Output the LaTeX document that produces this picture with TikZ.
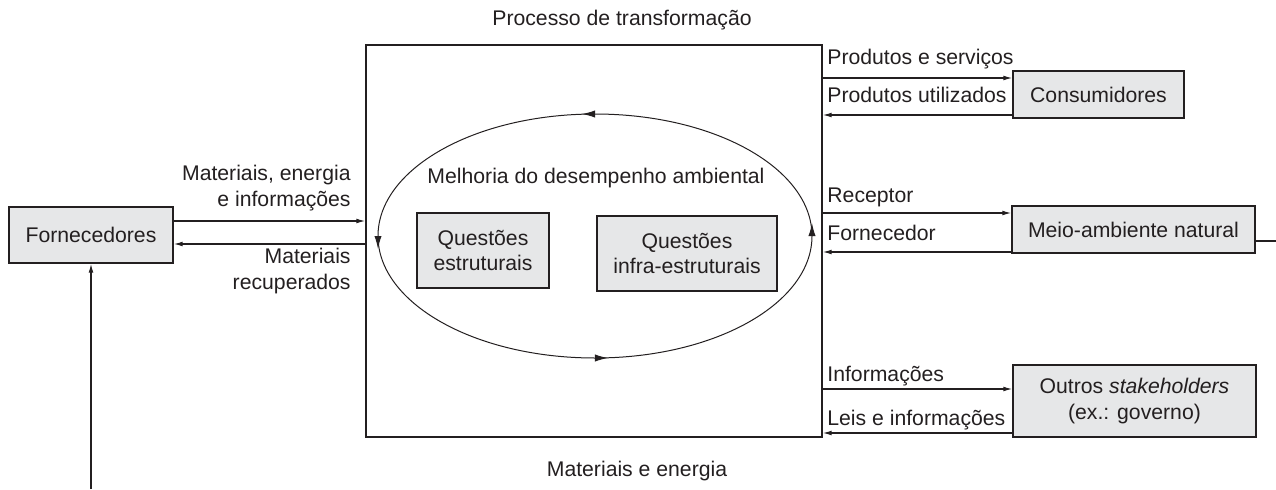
\documentclass[tikz,border=0pt]{standalone}
\usepackage{fontspec}
\setmainfont{Liberation Sans}
\usepackage{xcolor}
\usetikzlibrary{arrows.meta,decorations.markings}

\definecolor{boxgray}{RGB}{230,231,232}
\definecolor{ink}{RGB}{35,31,32}

\tikzset{
  >={Latex[length=4.5pt,width=2.4pt]},
  graybox/.style={draw=ink, fill=boxgray, line width=0.7pt, align=center, inner sep=0pt},
  flow/.style={->, draw=ink, line width=0.6pt},
  lbl/.style={inner sep=0pt, align=right},
  cycletip/.tip={Latex[reversed,length=6.5pt,width=3.6pt]},
}

\begin{document}
\begin{tikzpicture}[x=0.5pt, y=-0.5pt, font=\fontsize{10.6}{12.8}\selectfont, color=ink]
  \useasboundingbox (0,0) rectangle (1276,489);

  % Process box with the improvement cycle.
  \node[draw=ink, line width=0.7pt, minimum width=228pt, minimum height=196pt, inner sep=0pt] (proc) at (594,241) {};
  \draw[draw=ink, line width=0.5pt, decoration={markings,
      mark=at position 0 with {\arrow{cycletip}},
      mark=at position 0.25 with {\arrow{cycletip}},
      mark=at position 0.5 with {\arrow{cycletip}},
      mark=at position 0.75 with {\arrow{cycletip}}},
    postaction={decorate}] (595,236) ellipse (217 and 122);

  % Text annotations
  \node[lbl, anchor=base] (title) at (622,25) {Processo de transformação};
  \node[lbl, anchor=base] (bottom) at (637,476) {Materiais e energia};
  \node (melhoria) at (596,178) {Melhoria do desempenho ambiental};

  % Gray boxes.
  \node[graybox, minimum width=66pt, minimum height=37.5pt] (estr) at (483,250.5) {Questões\\estruturais};
  \node[graybox, minimum width=90pt, minimum height=37.5pt] (infra) at (687,253.5) {Questões\\infra-estruturais};
  \node[graybox, minimum width=82pt, minimum height=28pt] (forn) at (91,235) {Fornecedores};
  \node[graybox, minimum width=85.5pt, minimum height=23.5pt] (cons) at (1098.5,94.5) {Consumidores};
  \node[graybox, minimum width=121.5pt, minimum height=23.5pt] (meio) at (1133.5,229.5) {Meio-ambiente natural};
  \node[graybox, minimum width=121.5pt, minimum height=36pt] (outros) at (1134.5,401) {Outros \textit{stakeholders}\\(ex.: governo)};

  % Suppliers side.
  \draw[flow] (forn.east |- 0,221) -- (proc.west |- 0,221);
  \draw[flow] (proc.west |- 0,244) -- (forn.east |- 0,244);
  \node[lbl, anchor=east] (lin) at (351,188) {Materiais, energia\\e informações};
  \node[lbl, anchor=east] (lout) at (351,271) {Materiais\\recuperados};
  \coordinate (below) at (91,489);
  \draw[flow] (below) -- (forn.south);

  % Consumers, environment and stakeholders.
  \draw[flow] (proc.east |- 0,78) -- (cons.west |- 0,78);
  \draw[flow] (cons.west |- 0,115) -- (proc.east |- 0,115);
  \draw[flow] (proc.east |- 0,213) -- (meio.west |- 0,213);
  \draw[flow] (meio.west |- 0,252) -- (proc.east |- 0,252);
  \draw[flow] (proc.east |- 0,389) -- (outros.west |- 0,389);
  \draw[flow] (outros.west |- 0,433) -- (proc.east |- 0,433);
  \coordinate (edge) at (1276,241);
  \draw[draw=ink, line width=0.6pt] (meio.east |- edge) -- (edge);

  \node[lbl, anchor=base west] (lps) at (827,64) {Produtos e serviços};
  \node[lbl, anchor=base west] (lpu) at (827,102) {Produtos utilizados};
  \node[lbl, anchor=base west] (lrec) at (827,202) {Receptor};
  \node[lbl, anchor=base west] (lfor) at (827,240) {Fornecedor};
  \node[lbl, anchor=base west] (linf) at (827,381) {Informações};
  \node[lbl, anchor=base west] (lleis) at (827,425) {Leis e informações};

\end{tikzpicture}
\end{document}
